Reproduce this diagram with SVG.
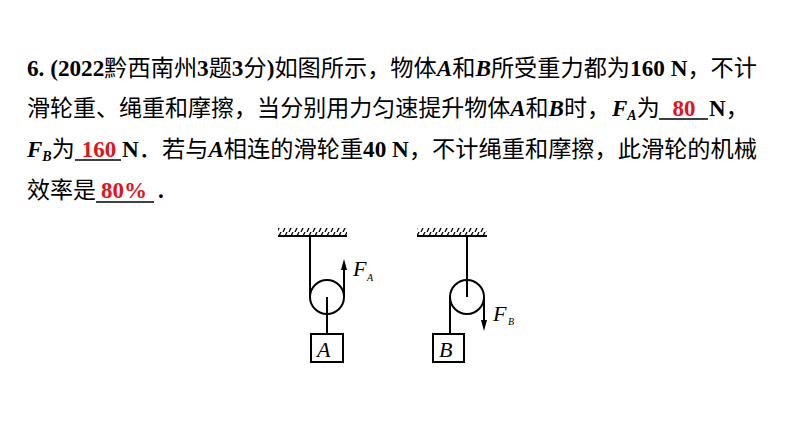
<svg xmlns="http://www.w3.org/2000/svg" width="794" height="447" viewBox="0 0 794 447">
<style>
.t{font-family:"Times New Roman","Liberation Serif","Noto Sans CJK SC",serif;font-size:23px;font-weight:bold;fill:#000}
.c{font-family:"Noto Sans CJK SC",sans-serif;font-weight:normal;font-size:23px}
.r{fill:#e0141e}
.l{stroke:#000;stroke-width:2;fill:none}
.ln{stroke:#000;stroke-width:1.5;fill:none}
.it{font-family:"Liberation Serif",serif;font-style:italic;fill:#000}
</style>
<defs>
<pattern id="h" width="6" height="8" patternUnits="userSpaceOnUse"><path d="M1,8 L5,0" stroke="#000" stroke-width="1.3"/></pattern>
</defs>
<g id="text">
<text class="t" x="27" y="76" textLength="730" lengthAdjust="spacingAndGlyphs">6. (2022<tspan class="c">黔西南州</tspan>3<tspan class="c">题</tspan>3<tspan class="c">分</tspan>)<tspan class="c">如图所示，物体</tspan><tspan font-style="italic">A</tspan><tspan class="c">和</tspan><tspan font-style="italic">B</tspan><tspan class="c">所受重力都为</tspan>160 N<tspan class="c">，不计</tspan></text>
<text class="t" x="27" y="116" textLength="583" lengthAdjust="spacingAndGlyphs"><tspan class="c">滑轮重、绳重和摩擦，当分别用力匀速提升物体</tspan><tspan font-style="italic">A</tspan><tspan class="c">和</tspan><tspan font-style="italic">B</tspan><tspan class="c">时，</tspan></text>
<text class="t" x="612" y="116"><tspan font-style="italic">F</tspan><tspan font-style="italic" font-size="14" dy="4">A</tspan><tspan class="c" dy="-4">为</tspan></text>
<text class="t r" x="684" y="116" text-anchor="middle">80</text>
<text class="t" x="709" y="116">N<tspan class="c">，</tspan></text>
<line x1="659" y1="119" x2="708" y2="119" class="ln"/>
<text class="t" x="27" y="157"><tspan font-style="italic">F</tspan><tspan font-style="italic" font-size="14" dy="4">B</tspan><tspan class="c" dy="-4">为</tspan></text>
<text class="t r" x="99" y="157" text-anchor="middle">160</text>
<line x1="75" y1="160" x2="121" y2="160" class="ln"/>
<text class="t" x="122" y="157" textLength="635" lengthAdjust="spacingAndGlyphs">N<tspan class="c">．若与</tspan><tspan font-style="italic">A</tspan><tspan class="c">相连的滑轮重</tspan>40 N<tspan class="c">，不计绳重和摩擦，此滑轮的机械</tspan></text>
<text class="t" x="27" y="198"><tspan class="c">效率是</tspan></text>
<text class="t r" x="124" y="198" text-anchor="middle">80%</text>
<line x1="96" y1="202" x2="154" y2="202" class="ln"/>
<text class="t" x="158" y="198">.</text>
</g>
<g id="pulleyA">
<rect x="278" y="228" width="69" height="8" fill="url(#h)"/>
<line x1="278" y1="236" x2="347" y2="236" class="l"/>
<line x1="310" y1="236" x2="310" y2="297" class="l"/>
<circle cx="327" cy="297" r="17" class="l"/>
<line x1="344" y1="297" x2="344" y2="268" class="l"/>
<polygon points="344,259 341,270 347,270" fill="#000"/>
<line x1="327" y1="297" x2="327" y2="334" class="l"/>
<rect x="311" y="334" width="32" height="28" class="l"/>
<text class="it" x="317" y="357" font-size="22">A</text>
<text class="it" x="353" y="276" font-size="22">F</text>
<text class="it" x="367" y="281" font-size="10">A</text>
</g>
<g id="pulleyB">
<rect x="417" y="228" width="70" height="8" fill="url(#h)"/>
<line x1="417" y1="236" x2="487" y2="236" class="l"/>
<line x1="467" y1="236" x2="467" y2="297" class="l"/>
<circle cx="467" cy="297" r="17" class="l"/>
<line x1="450" y1="297" x2="450" y2="334" class="l"/>
<line x1="484" y1="297" x2="484" y2="322" class="l"/>
<polygon points="484,331 481,320 487,320" fill="#000"/>
<rect x="433" y="334" width="31" height="28" class="l"/>
<text class="it" x="439" y="357" font-size="22">B</text>
<text class="it" x="493" y="321" font-size="22">F</text>
<text class="it" x="508" y="325" font-size="10">B</text>
</g>
</svg>
